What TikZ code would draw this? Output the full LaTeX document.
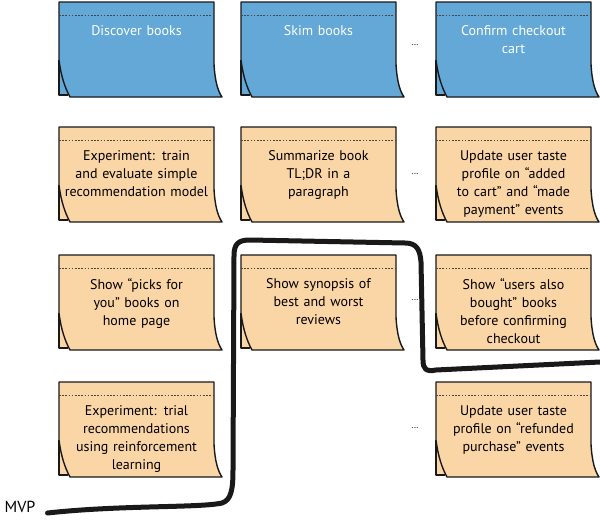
\documentclass[tikz,border=0pt]{standalone}
\usepackage{fontspec}
\setmainfont{PT Sans}
\usepackage{tikz}
\usepackage{xcolor}
\usetikzlibrary{calc}
\definecolor{noteblue}{RGB}{99,168,215}
\definecolor{notepeach}{RGB}{250,213,165}
\definecolor{outline}{RGB}{25,25,25}
\definecolor{dashgray}{RGB}{70,70,70}
\tikzset{
  noteline/.style={draw=outline, line width=1.4pt, line join=round},
  bluenote/.style={fill=noteblue, text=white},
  peachnote/.style={fill=notepeach, text=black},
  tearline/.style={draw=dashgray, line width=0.7pt, dash pattern=on 1.6pt off 1.6pt},
  notetext/.style={anchor=north, text width=152pt, align=center, inner sep=0pt,
                   font=\fontsize{14}{18}\selectfont},
  mvpline/.style={draw=outline, line width=5pt, line cap=round, line join=round},
  dots/.style={font=\small},
}
% sticky note: name, top-left corner, colour style, text
\newcommand{\sticky}[4]{%
  \begin{scope}[shift={(#2)}]
    \draw[noteline, #3] (0,58) -- (0,93) -- (9,93);  % back flap
    \draw[noteline, #3] (0,0) -- (155,0) -- (155,62)
      .. controls (156,80) and (159,89) .. (163,95) -- (11,95)
      .. controls (6,86) and (2,74) .. (0,58) -- cycle;
    \draw[tearline] (0,13) -- (155,13);
    \node[notetext, #3, fill=none] (#1) at (77.5,23) {#4};
  \end{scope}}

\begin{document}
\begin{tikzpicture}[x=1pt, y=-1pt]
  \useasboundingbox (0,0) rectangle (600,522);

  % activities
  \sticky{discover}{59,2}{bluenote}{Discover books}
  \sticky{skim}{241,2}{bluenote}{Skim books}
  \sticky{checkout}{436,2}{bluenote}{Confirm checkout\\cart}

  % release 1
  \sticky{trainmodel}{59,127}{peachnote}{Experiment: train\\and evaluate simple\\recommendation model}
  \sticky{summarize}{241,127}{peachnote}{Summarize book\\TL;DR in a\\paragraph}
  \sticky{cartprofile}{436,127}{peachnote}{Update user taste\\profile on ``added\\to cart'' and ``made\\payment'' events}

  % release 2
  \sticky{picks}{59,255}{peachnote}{Show ``picks for\\you'' books on\\home page}
  \sticky{synopsis}{241,255}{peachnote}{Show synopsis of\\best and worst\\reviews}
  \sticky{alsobought}{436,255}{peachnote}{Show ``users also\\bought'' books\\before confirming\\checkout}

  % release 3
  \sticky{reinforce}{59,382}{peachnote}{Experiment: trial\\recommendations\\using reinforcement\\learning}
  \sticky{refundprofile}{436,382}{peachnote}{Update user taste\\profile on ``refunded\\purchase'' events}

  \node[dots] (dotsA) at (415,45) {\ldots};
  \node[dots] (dotsB) at (415,174) {\ldots};
  \node[dots] (dotsC) at (415,300) {\ldots};
  \node[dots] (dotsD) at (415,428) {\ldots};

  % MVP cut
  \node[font=\fontsize{16}{18}\selectfont, inner sep=1pt] (mvp) at (20,507) {MVP};
  \coordinate (mvpend) at (600,362);
  \draw[mvpline] ($(mvp.east)+(11,6)$)
    .. controls (120,505) and (200,508) .. (222,503)
    .. controls (231,500) and (233,490) .. (233,470) -- (234,256)
    .. controls (234,244) and (238,240) .. (250,240) -- (405,243)
    .. controls (417,243) and (420,250) .. (421,262) -- (423,360)
    .. controls (423,369) and (426,372) .. (436,370) -- (mvpend);
\end{tikzpicture}
\end{document}
